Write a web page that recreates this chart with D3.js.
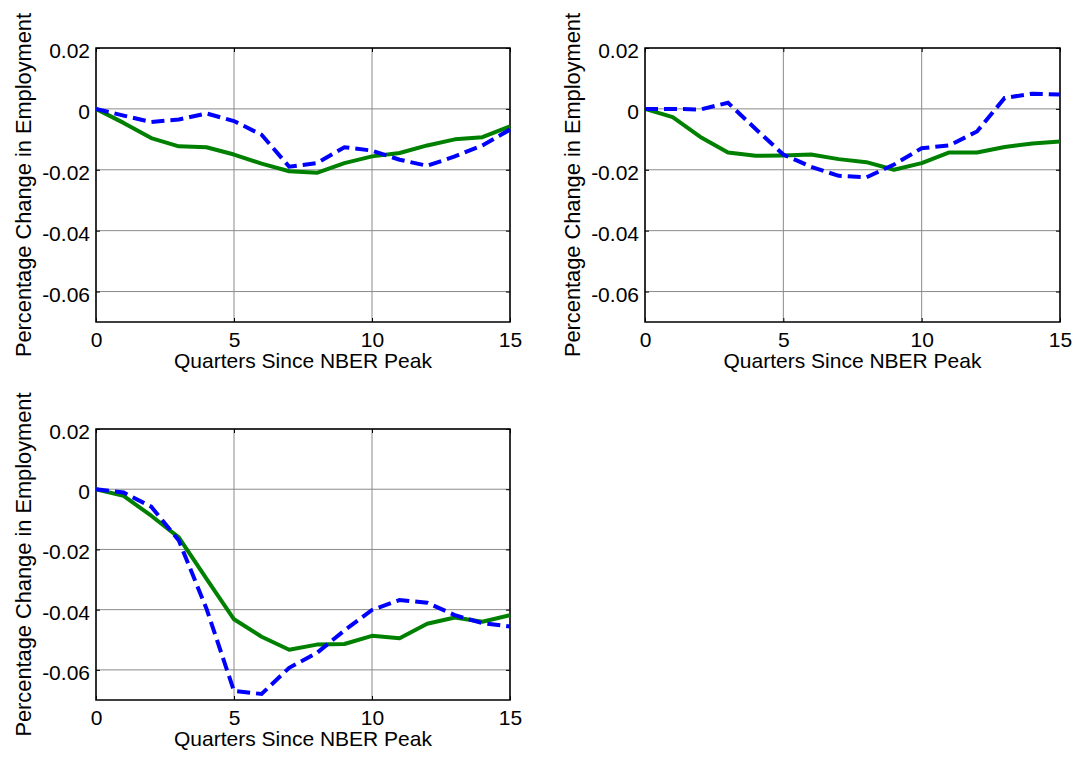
<!DOCTYPE html>
<html>
<head>
<meta charset="utf-8">
<script src="https://cdn.jsdelivr.net/npm/d3@7"></script>
<style>
  body { margin: 0; background: #fff; }
  svg { display: block; }
  text { font-family: "Liberation Sans", Arial, sans-serif; fill: #000; }
</style>
</head>
<body>
<svg class="wrapper" width="1075" height="757"></svg>
<script>
// quarters since peak
const quarters = d3.range(0, 16);
const yTicks = [0.02, 0, -0.02, -0.04, -0.06];
const xTicks = [0, 5, 10, 15];

// panel 1 (top left)
const green1 = [0, -0.0046, -0.0096, -0.0123, -0.0126, -0.015, -0.018, -0.0205, -0.021, -0.0178, -0.0156, -0.0145, -0.012, -0.010, -0.0093, -0.0057];
const blue1 = [0, -0.0022, -0.0043, -0.0035, -0.0015, -0.004, -0.0085, -0.019, -0.0178, -0.0126, -0.0137, -0.0167, -0.0187, -0.0156, -0.012, -0.0068];
// panel 2 (top right)
const green2 = [0, -0.0027, -0.0092, -0.0143, -0.0154, -0.0153, -0.015, -0.0165, -0.0175, -0.020, -0.0178, -0.0143, -0.0143, -0.0125, -0.0114, -0.0107];
const blue2 = [0, 0, -0.0002, 0.002, -0.0066, -0.015, -0.019, -0.022, -0.0225, -0.0183, -0.0129, -0.012, -0.0074, 0.0036, 0.005, 0.0047];
// panel 3 (bottom left)
const green3 = [0, -0.0022, -0.0088, -0.016, -0.0297, -0.0432, -0.049, -0.0533, -0.0516, -0.0514, -0.0487, -0.0495, -0.0447, -0.0426, -0.044, -0.0418];
const blue3 = [0, -0.0011, -0.0058, -0.017, -0.0396, -0.067, -0.068, -0.0593, -0.0544, -0.0469, -0.0401, -0.0368, -0.0377, -0.0418, -0.0445, -0.0456];

const panels = [
    { left: 96, top: 48, w: 414, h: 274, green: green1, blue: blue1 },
    { left: 645, top: 48, w: 415, h: 274, green: green2, blue: blue2 },
    { left: 96, top: 429, w: 414, h: 271, green: green3, blue: blue3 }
];

const svg = d3.select(".wrapper");
const fontSize = 21;

panels.forEach(p => {
    const xScale = d3.scaleLinear().domain([0, 15]).range([0, p.w]);
    const yScale = d3.scaleLinear().domain([-0.07, 0.02]).range([p.h, 0]);

    const g = svg.append("g")
        .attr("transform", `translate(${p.left}, ${p.top})`);

    // grid
    g.append("g")
        .selectAll("line")
        .data(yTicks)
        .enter()
        .append("line")
        .attr("x1", 0).attr("x2", p.w)
        .attr("y1", d => yScale(d)).attr("y2", d => yScale(d))
        .attr("stroke", "#8a8a8a").attr("stroke-width", 1);
    g.append("g")
        .selectAll("line")
        .data(xTicks)
        .enter()
        .append("line")
        .attr("x1", d => xScale(d)).attr("x2", d => xScale(d))
        .attr("y1", 0).attr("y2", p.h)
        .attr("stroke", "#8a8a8a").attr("stroke-width", 1);

    // axes, ticks inward (plain hyphen for negatives, like the original)
    const axL = g.append("g").call(d3.axisLeft(yScale).tickValues(yTicks).tickSize(-4).tickPadding(6)
        .tickFormat(d => String(d)));
    const axR = g.append("g").attr("transform", `translate(${p.w},0)`)
        .call(d3.axisRight(yScale).tickValues(yTicks).tickSize(-4).tickFormat(""));
    const axB = g.append("g").attr("transform", `translate(0,${p.h})`)
        .call(d3.axisBottom(xScale).tickValues(xTicks).tickSize(-4).tickPadding(9).tickFormat(d3.format("d")));
    const axT = g.append("g")
        .call(d3.axisTop(xScale).tickValues(xTicks).tickSize(-4).tickFormat(""));

    [axL, axR, axB, axT].forEach(a => {
        a.select(".domain").remove();
        a.selectAll(".tick line").attr("stroke", "#000");
        a.selectAll("text").attr("font-size", fontSize).attr("font-family", "Liberation Sans, Arial, sans-serif").attr("fill", "#000");
    });
    axL.selectAll("text").attr("dy", "0.45em");
    axB.selectAll("text").attr("dy", "0.74em");

    // box
    g.append("rect")
        .attr("x", 0).attr("y", 0).attr("width", p.w).attr("height", p.h)
        .attr("fill", "none").attr("stroke", "#000").attr("stroke-width", 1.5);

    const line = d3.line()
        .x((d, i) => xScale(quarters[i]))
        .y(d => yScale(d));

    g.append("path")
        .datum(p.green)
        .attr("d", line)
        .attr("fill", "none")
        .attr("stroke", "#008000")
        .attr("stroke-width", 4)
        .attr("stroke-linejoin", "round");

    g.append("path")
        .datum(p.blue)
        .attr("d", line)
        .attr("fill", "none")
        .attr("stroke", "#0000ff")
        .attr("stroke-width", 4)
        .attr("stroke-dasharray", "13,6");

    // labels
    g.append("text")
        .attr("x", p.w / 2)
        .attr("y", p.h + 46)
        .attr("text-anchor", "middle")
        .attr("font-size", fontSize)
        .text("Quarters Since NBER Peak");

    g.append("text")
        .attr("transform", `translate(-65, ${p.h / 2}) rotate(-90)`)
        .attr("text-anchor", "middle")
        .attr("font-size", 21.8)
        .text("Percentage Change in Employment");
});
</script>
</body>
</html>
